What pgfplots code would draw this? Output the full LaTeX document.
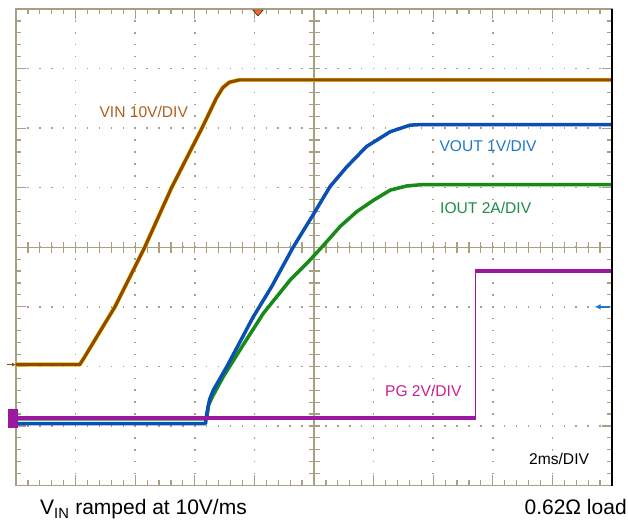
\documentclass[border=0pt]{standalone}
\usepackage{fontspec}
\setmainfont{Liberation Sans}
\usepackage{pgfplots}
\pgfplotsset{compat=1.18}
\usetikzlibrary{arrows.meta}
\definecolor{gridc}{RGB}{168,160,128}
\definecolor{vinc}{RGB}{150,70,5}
\definecolor{vinyel}{RGB}{225,225,0}
\definecolor{voutc}{RGB}{10,80,180}
\definecolor{ioutc}{RGB}{23,138,23}
\definecolor{pgc}{RGB}{155,25,160}
\definecolor{vinlab}{RGB}{176,96,30}
\definecolor{voutlab}{RGB}{30,120,200}
\definecolor{ioutlab}{RGB}{30,140,70}
\definecolor{pglab}{RGB}{200,30,150}
\definecolor{trig}{RGB}{255,105,40}
\begin{document}
\begin{tikzpicture}
\path[use as bounding box] (0,0) rectangle (628bp,522bp);
\pgfplotsset{scopeaxis/.style={at={(16bp,36.5bp)}, anchor=south west, scale only axis, width=596bp, height=476.5bp}}
% centre cross with ticks
\begin{axis}[scopeaxis, xmin=-5, xmax=5, ymin=-4, ymax=4,
  axis lines=middle, axis line style={-, gridc, line width=1.4bp},
  xtick={-5,...,5}, ytick={-4,...,4}, minor tick num=4, tick align=center,
  major tick length=11bp, minor tick length=11bp,
  xticklabels={}, yticklabels={}, tick style={gridc, line width=1.2bp}]
\end{axis}
\begin{axis}[scopeaxis, xmin=0, xmax=10, ymin=0, ymax=8, clip=false,
  axis line style={gridc, line width=1.6bp},
  xtick={0,...,10}, ytick={0,...,8}, minor tick num=4, tick align=inside,
  xtick pos=both, ytick pos=both,
  major tick length=10bp, minor tick length=5.5bp, tick style={gridc, line width=1.2bp},
  xticklabels={}, yticklabels={},
  grid=major,
  x grid style={gridc, line width=1.5bp, dash pattern=on 1.5bp off 10.4125bp, dash phase=0.75bp},
  y grid style={gridc, line width=1.5bp, dash pattern=on 1.5bp off 10.42bp, dash phase=0.75bp},
]
% VIN
\addplot[vinyel, line width=4.2bp, line join=round] coordinates {(0,2.03) (1.07,2.03) (1.14,2.14) (1.66,3.0) (2.16,4.0) (2.61,5.0) (3.12,6.0) (3.36,6.5) (3.47,6.68) (3.58,6.77) (3.75,6.81) (10,6.81)};
\addplot[vinc, line width=3.2bp, line join=round] coordinates {(0,2.03) (1.07,2.03) (1.14,2.14) (1.66,3.0) (2.16,4.0) (2.61,5.0) (3.12,6.0) (3.36,6.5) (3.47,6.68) (3.58,6.77) (3.75,6.81) (10,6.81)};
% IOUT
\addplot[ioutc, line width=3.5bp, line join=round] coordinates {(0,1.12) (3.2,1.12) (3.23,1.35) (3.3,1.5) (3.48,1.83) (3.76,2.28) (4.15,2.89) (4.6,3.45) (4.88,3.73) (5.13,4.0) (5.44,4.35) (5.72,4.6) (6.0,4.79) (6.28,4.96) (6.56,5.03) (6.8,5.05) (10,5.05)};
% VOUT
\addplot[voutc, line width=3.5bp, line join=round] coordinates {(0,1.04) (3.18,1.04) (3.2,1.2) (3.25,1.45) (3.31,1.6) (3.54,2.0) (3.98,2.83) (4.29,3.34) (4.65,4.0) (5.0,4.57) (5.27,5.02) (5.55,5.35) (5.88,5.69) (6.28,5.94) (6.61,6.05) (6.8,6.06) (10,6.06)};
% PG
\addplot[pgc, line width=3.5bp] coordinates {(0,1.13) (7.71,1.13)};
\addplot[pgc, line width=1bp] coordinates {(7.71,1.13) (7.71,3.6)};
\addplot[pgc, line width=3.5bp] coordinates {(7.7,3.6) (10,3.6)};
% channel markers
\addplot[vinc, line width=1.5bp, -{Latex[length=4bp,width=4bp]}] coordinates {(-0.15,2.03) (0,2.03)};
\addplot[only marks, mark=square*, mark size=4.5bp, mark options={yscale=2, fill=pgc, draw=pgc}] coordinates {(-0.06,1.13)};
\addplot[white, line width=1bp, -{Latex[length=3bp,width=3bp]}] coordinates {(-0.12,1.13) (0,1.13)};
\addplot[only marks, mark=triangle*, mark size=6bp, mark options={yscale=-0.65, fill=trig, draw=none}] coordinates {(4.06,7.95)};
\addplot[voutlab, line width=1.8bp, -{Latex[length=6bp,width=6bp]}] coordinates {(9.97,3.0) (9.71,3.0)};
% right frame edge
\draw[black, line width=1.5bp] (rel axis cs:1,0) -- (rel axis cs:1,1);
% labels
\node[anchor=base west, inner sep=0, text=vinlab, font=\fontsize{15.6bp}{18bp}\selectfont] at (axis cs:1.398,6.175) {VIN 10V/DIV};
\node[anchor=base west, inner sep=0, text=voutlab, font=\fontsize{15.6bp}{18bp}\selectfont] at (axis cs:7.103,5.604) {VOUT 1V/DIV};
\node[anchor=base west, inner sep=0, text=ioutlab, font=\fontsize{15.6bp}{18bp}\selectfont] at (axis cs:7.114,4.57) {IOUT 2A/DIV};
\node[anchor=base west, inner sep=0, text=pglab, font=\fontsize{15.6bp}{18bp}\selectfont] at (axis cs:6.19,1.49) {PG 2V/DIV};
\node[anchor=base west, inner sep=0, text=black, font=\fontsize{15.6bp}{18bp}\selectfont] at (axis cs:8.607,0.36) {2ms/DIV};
\node[anchor=base west, inner sep=0, text=black, font=\fontsize{21bp}{24bp}\selectfont] at (axis cs:0.403,-0.495) {V\textsubscript{IN} ramped at 10V/ms};
\node[anchor=base east, inner sep=0, text=black, font=\fontsize{21bp}{24bp}\selectfont] at (axis cs:10.25,-0.495) {0.62Ω load};
\end{axis}
\end{tikzpicture}
\end{document}
